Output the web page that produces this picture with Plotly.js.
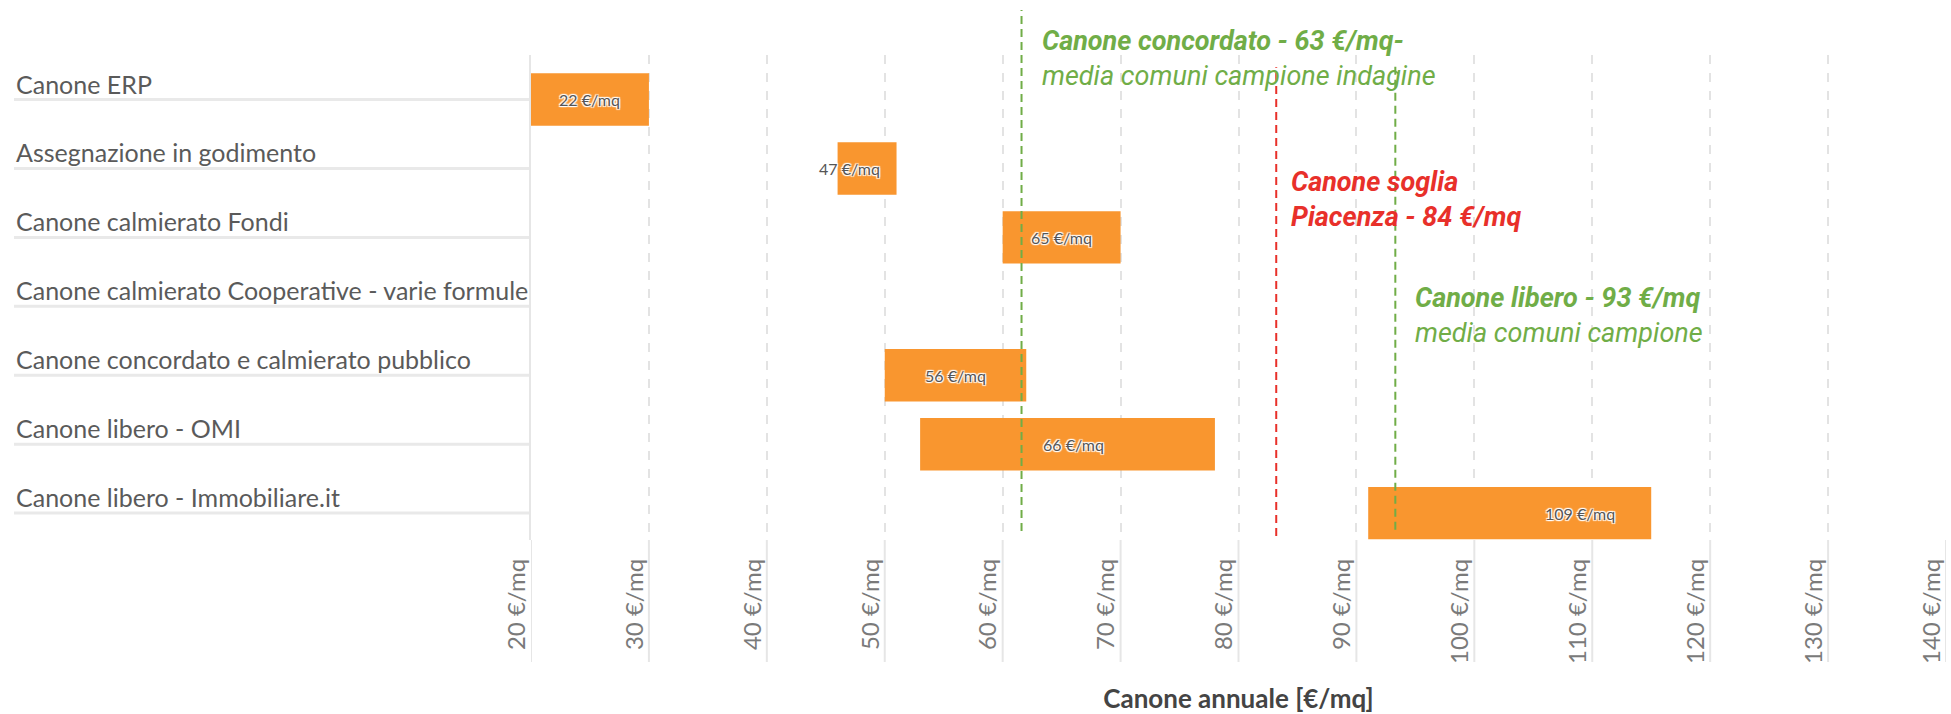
<!DOCTYPE html>
<html>
<head>
<meta charset="utf-8">
<script src="https://cdn.plot.ly/plotly-3.0.1.min.js"></script>
<style>
  html, body { margin: 0; padding: 0; background: #fff; }
  #chart { width: 1951px; height: 714px; }
</style>
</head>
<body>
<div id="chart"></div>
<script>
// ---- data ----
const categories = [
  "Canone ERP",
  "Assegnazione in godimento",
  "Canone calmierato Fondi",
  "Canone calmierato Cooperative - varie formule",
  "Canone concordato e calmierato pubblico",
  "Canone libero - OMI",
  "Canone libero - Immobiliare.it"
];
const rangeMin = [20, 46, 60, null, 50, 53, 91];
const rangeMax = [30, 51, 70, null, 62, 78, 115];
const averageValue = [22, 47, 65, null, 56, 66, 109];

const xTickValues = [20, 30, 40, 50, 60, 70, 80, 90, 100, 110, 120, 130, 140];
const xTickLabels = xTickValues.map(v => v + " €/mq");

const refLineValues = [61.6, 83.2, 93.3];
const refLineLabels = [
  "<b>Canone concordato - 63 €/mq-</b><br>media comuni campione indagine",
  "<b>Canone soglia</b><br><b>Piacenza - 84 €/mq</b>",
  "<b>Canone libero - 93 €/mq</b><br>media comuni campione"
];
const refLineColors = ["#70ad47", "#e8302a", "#70ad47"];

const axisTitle = "Canone annuale [€/mq]";

// ---- styling / layout ----
const xRange = [20, 140];
const barColor = "#f9962f";
const halo = "-1px -1px 1px #fff, 1px -1px 1px #fff, -1px 1px 1px #fff, 1px 1px 1px #fff, 0 0 2px #fff";

const barTrace = {
  type: "bar",
  orientation: "h",
  y: categories,
  base: rangeMin,
  x: rangeMin.map((m, i) => (m === null ? null : rangeMax[i] - m)),
  width: 0.76,
  marker: { color: barColor },
  hoverinfo: "skip"
};

const annotations = [];
const shapes = [];

// category labels on the left + underline rules
const labelPaperX = (14 - 531) / 1415;
categories.forEach(c => {
  annotations.push({
    xref: "paper", yref: "y", x: labelPaperX, y: c,
    xanchor: "left", yanchor: "middle", yshift: 16,
    text: c, showarrow: false,
    font: { family: "Lato", size: 25, color: "#5a5a5a" }
  });
  shapes.push({
    type: "line", xref: "paper", yref: "y",
    x0: labelPaperX, x1: 0, y0: c, y1: c,
    line: { color: "#e9e9e9", width: 3 }, layer: "below"
  });
});

// value labels on the bars
averageValue.forEach((v, i) => {
  if (v === null) return;
  annotations.push({
    xref: "x", yref: "y", x: Math.max(v, xRange[0] + 5), y: categories[i],
    xanchor: "center", yanchor: "middle",
    text: v + " €/mq", showarrow: false,
    font: { family: "Lato", size: 16, color: "#555", shadow: halo }
  });
});

// tick extension lines below the plot
xTickValues.forEach(v => {
  shapes.push({
    type: "line", xref: "x", yref: "paper",
    x0: v, x1: v, y0: 0, y1: -0.2515,
    line: { color: "#e6e6e6", width: 2 }, layer: "below"
  });
});

// reference lines and their labels
const refTop = [1.093, 0.975, 0.986];
const refBottom = [0.0186, 0.008, 0.021];
const refLabelY = [0.992, 0.703, 0.462];
const refShift = [18, 13, 18];
refLineValues.forEach((v, i) => {
  shapes.push({
    type: "line", xref: "x", yref: "paper",
    x0: v, x1: v, y0: refBottom[i], y1: refTop[i],
    line: { color: refLineColors[i], width: 2, dash: "8px,5px" }
  });
  annotations.push({
    xref: "x", yref: "paper", x: v, y: refLabelY[i],
    xanchor: "left", yanchor: "middle", xshift: refShift[i], align: "left",
    text: "<i>" + refLineLabels[i].replace("<br>", "</i><br><i>") + "</i>",
    showarrow: false,
    font: { family: "Roboto", size: 27, color: refLineColors[i] }
  });
});

const layout = {
  width: 1951, height: 714,
  margin: { l: 531, r: 5, t: 55, b: 174 },
  paper_bgcolor: "#fff", plot_bgcolor: "#fff",
  showlegend: false,
  bargap: 0.24,
  xaxis: {
    range: xRange,
    tickvals: xTickValues, ticktext: xTickLabels,
    tickangle: -90,
    tickfont: { family: "Lato", size: 24, color: "#7a7a7a" },
    ticks: "", ticklabelstandoff: 13, ticklabelshift: -14,
    showgrid: true, gridcolor: "#e3e3e3", gridwidth: 2, griddash: "dash",
    zeroline: false, showline: false, automargin: false,
    title: { text: axisTitle, standoff: 34, font: { family: "Lato", size: 26, color: "#444", weight: "bold" } }
  },
  yaxis: {
    type: "category", categoryarray: categories, categoryorder: "array",
    range: [6.39, -0.646],
    showticklabels: false, showgrid: false, zeroline: false,
    showline: true, linecolor: "#e6e6e6", linewidth: 2, ticks: "",
    automargin: false
  },
  annotations: annotations,
  shapes: shapes
};

Plotly.newPlot("chart", [barTrace], layout, { displayModeBar: false, staticPlot: true });
</script>
</body>
</html>
